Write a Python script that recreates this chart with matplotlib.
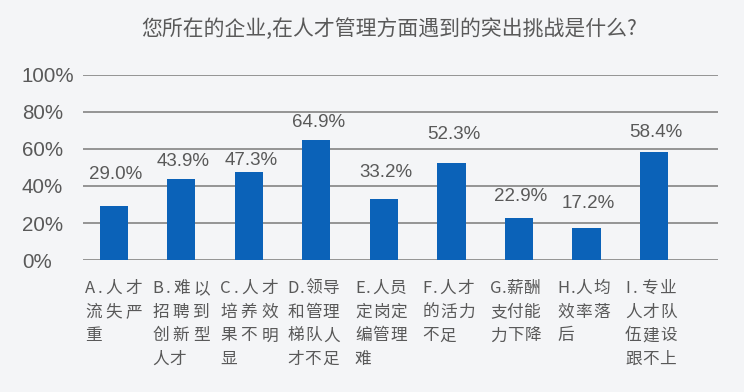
import matplotlib
matplotlib.use("Agg")
import matplotlib.pyplot as plt
from matplotlib.font_manager import FontProperties
import numpy as np

# ---- data ----
title = "您所在的企业,在人才管理方面遇到的突出挑战是什么?"
categories = [
    "A.人才流失严重",
    "B.难以招聘到创新型人才",
    "C.人才培养效果不明显",
    "D.领导和管理梯队人才不足",
    "E.人员定岗定编管理难",
    "F.人才的活力不足",
    "G.薪酬支付能力下降",
    "H.人均效率落后",
    "I.专业人才队伍建设跟不上",
]
values = [29.0, 43.9, 47.3, 64.9, 33.2, 52.3, 22.9, 17.2, 58.4]
yticks = [0, 20, 40, 60, 80, 100]
ytick_labels = ["0%", "20%", "40%", "60%", "80%", "100%"]

# ---- style ----
label_offsets_px = [32, 17, 12, 17, 26, 29, 21, 25, 19]
label_widths_px = [57, 57, 58, 52, 52, 52, 50, 52, 52]
bg = "#f4f5f7"
bar_color = "#0b62b8"
grid_color = "#8c8c8c"
text_color = "#595959"
cjk = ["Noto Sans CJK SC", "DejaVu Sans"]
latin = ["Liberation Sans", "DejaVu Sans"]
cat_fs = 12


def wrap(s):
    lines = [s[:4]]
    rest = s[4:]
    while rest:
        lines.append(rest[:3])
        rest = rest[3:]
    return lines


W, H = 744, 392
fig = plt.figure(figsize=(W / 100, H / 100), dpi=100, facecolor=bg)
ax = fig.add_axes([83 / W, 1 - 260.3 / H, (718 - 83) / W, (260.3 - 74.5) / H])
ax.set_facecolor(bg)

x = np.arange(len(categories))
ax.bar(x, values, width=0.415, color=bar_color, zorder=3)

ax.set_ylim(0, 100)
ax.set_xlim(-0.459, 8.948)
ax.set_yticks(yticks)
ax.set_yticklabels(ytick_labels)
ax.yaxis.grid(True, color=grid_color, linewidth=1.3, zorder=0)
ax.set_axisbelow(True)
for sp in ax.spines.values():
    sp.set_visible(False)
ax.set_xticks([])
ax.tick_params(axis="y", length=0, pad=44, labelsize=14.8, labelcolor=text_color)
for lab in ax.get_yticklabels():
    lab.set_horizontalalignment("left")
    lab.set_family(latin)

for xi, v, off in zip(x, values, label_offsets_px):
    ax.annotate(f"{v:.1f}%", xy=(xi, v), xytext=(2, off), textcoords="offset pixels",
                ha="center", va="center", fontsize=13.5, color=text_color, family=latin)

# category labels: justified lines, character by character
renderer = fig.canvas.get_renderer()
prop = FontProperties(family=cjk, size=cat_fs)


def char_w(ch):
    w, _, _ = renderer.get_text_width_height_descent(ch, prop, ismath=False)
    return w


for xi, c, tw in zip(x, categories, label_widths_px):
    lines = wrap(c)
    for li, line in enumerate(lines):
        widths = [char_w(ch) for ch in line]
        natural = sum(widths)
        if li < len(lines) - 1 and len(line) > 1:
            gap = max(0.0, (tw - natural) / (len(line) - 1))
        else:
            gap = 0.6
        px = -29.0
        for ch, w in zip(line, widths):
            ax.annotate(ch, xy=(xi, 0), xycoords=("data", "axes fraction"),
                        xytext=(px, -28 - 23.8 * li), textcoords="offset pixels",
                        ha="left", va="center", fontproperties=prop, color=text_color)
            px += w + gap

fig.text(389 / W, 1 - 29 / H, title, ha="center", va="center", fontsize=15,
         color=text_color, family=cjk)

fig.savefig("out.png", dpi=100, facecolor=bg)
